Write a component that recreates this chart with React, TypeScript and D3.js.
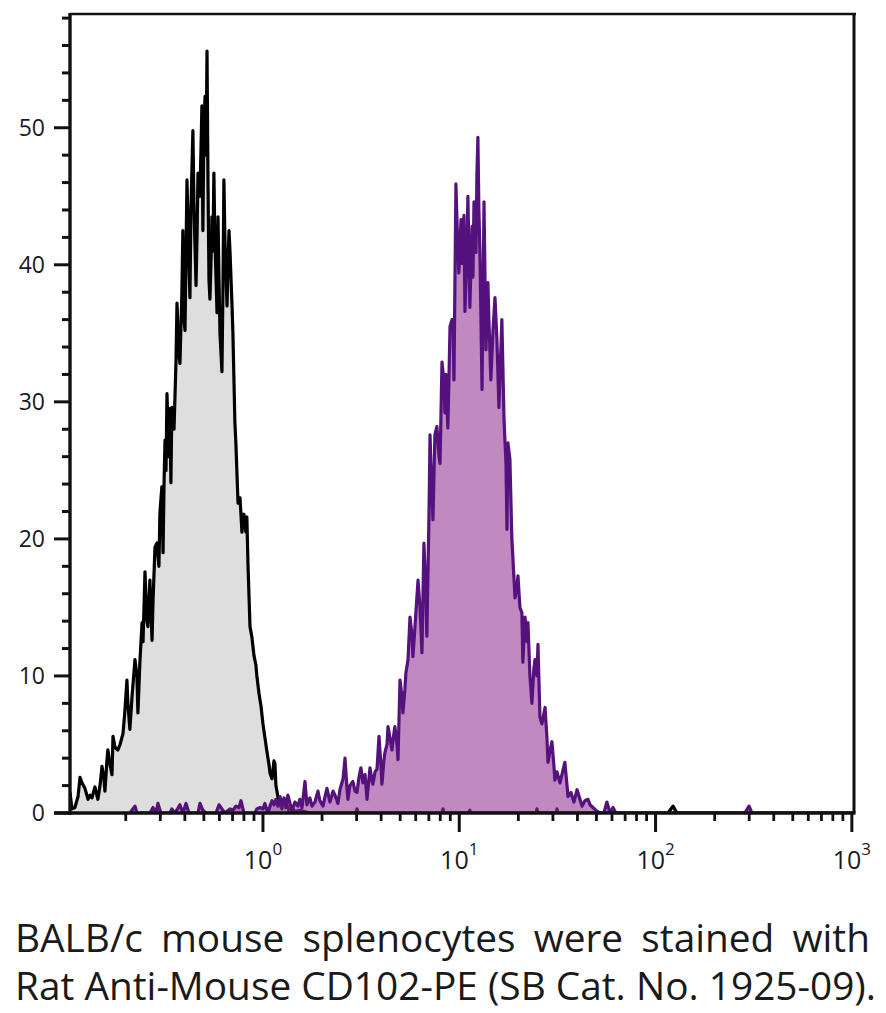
import React, { useEffect, useRef } from 'react';
import * as d3 from 'd3';

// log10(PE intensity) and event count per point
const controlLog = [
  -0.983, -0.973, -0.958, -0.942, -0.932, -0.922, -0.907, -0.891, -0.881, -0.871,
  -0.856, -0.841, -0.830, -0.820, -0.810, -0.805, -0.795, -0.790, -0.779, -0.769,
  -0.764, -0.754, -0.739, -0.728, -0.713, -0.703, -0.693, -0.688, -0.678, -0.667,
  -0.652, -0.642, -0.637, -0.627, -0.616, -0.611, -0.601, -0.591, -0.586, -0.576,
  -0.565, -0.560, -0.550, -0.540, -0.530, -0.525, -0.515, -0.509, -0.504, -0.499,
  -0.494, -0.489, -0.479, -0.474, -0.469, -0.464, -0.453, -0.443, -0.438, -0.428,
  -0.423, -0.413, -0.408, -0.402, -0.397, -0.392, -0.387, -0.377, -0.372, -0.367,
  -0.357, -0.351, -0.341, -0.336, -0.331, -0.321, -0.311, -0.306, -0.301, -0.295,
  -0.290, -0.285, -0.280, -0.275, -0.270, -0.265, -0.260, -0.255, -0.250, -0.245,
  -0.234, -0.229, -0.224, -0.219, -0.209, -0.204, -0.199, -0.194, -0.183, -0.178,
  -0.173, -0.168, -0.158, -0.153, -0.143, -0.138, -0.127, -0.117, -0.107, -0.097,
  -0.087, -0.082, -0.076, -0.066, -0.056, -0.046, -0.036, -0.031, -0.020, -0.010,
  0.000, 0.010, 0.020, 0.031, 0.036, 0.046, 0.056, 0.061, 0.066, 0.076,
  0.087, 0.097, 0.112, 0.122, 0.132, 0.148, 0.163, 0.188, 0.239, 0.474,
  0.479, 0.484, 0.912, 0.917, 0.922, 1.049, 1.054, 1.059, 1.391, 1.396,
  1.401, 1.493, 1.498, 1.503, 2.063, 2.089, 2.109, 3.016,
];
const controlCount = [
  1.5, 0.3, 0.4, 1.2, 2.6, 2.2, 1.8, 1.0, 1.3, 1.1,
  1.9, 1.0, 2.0, 3.4, 2.5, 1.6, 3.8, 4.6, 3.5, 2.8,
  5.6, 4.8, 4.6, 5.0, 5.8, 7.5, 9.7, 8.0, 6.1, 8.5,
  11.2, 10.0, 7.3, 11.0, 13.9, 12.5, 17.6, 14.0, 13.6, 17.0,
  12.6, 15.5, 19.4, 19.7, 18.0, 21.9, 23.8, 19.0, 24.0, 27.2,
  25.0, 30.6, 26.0, 29.5, 24.1, 29.6, 28.0, 33.0, 37.2, 33.5,
  32.8, 38.0, 42.5, 36.0, 35.2, 41.0, 46.2, 40.0, 37.6, 44.0,
  49.8, 44.0, 38.5, 42.0, 46.7, 45.0, 51.6, 42.5, 50.0, 52.3,
  48.0, 55.6, 46.0, 38.9, 37.5, 40.0, 43.5, 41.0, 46.7, 42.0,
  36.5, 43.5, 39.0, 35.0, 32.2, 38.0, 46.2, 42.0, 37.0, 40.0,
  42.5, 41.0, 37.2, 35.0, 28.5, 27.0, 22.6, 23.0, 20.5, 21.8,
  20.5, 21.6, 18.0, 13.6, 12.8, 11.5, 10.8, 10.0, 8.7, 7.8,
  6.5, 5.5, 4.5, 3.5, 2.9, 2.5, 3.8, 3.6, 2.0, 1.2,
  0.6, 0.3, 1.0, 0.6, 0.2, 0.4, 0.1, 0.2, 0, 0,
  0.3, 0, 0, 0.3, 0, 0, 0.2, 0, 0, 0.3,
  0, 0, 0.3, 0, 0, 0.5, 0, 0,
];

const stainedLog = [
  -0.678, -0.652, -0.642, -0.576, -0.560, -0.545, -0.535, -0.520, -0.474, -0.464,
  -0.448, -0.423, -0.408, -0.392, -0.377, -0.331, -0.321, -0.306, -0.290, -0.239,
  -0.224, -0.209, -0.194, -0.168, -0.153, -0.138, -0.122, -0.112, -0.097, -0.041,
  -0.031, -0.015, 0.000, 0.010, 0.025, 0.036, 0.046, 0.056, 0.066, 0.076,
  0.087, 0.097, 0.107, 0.117, 0.127, 0.138, 0.148, 0.163, 0.178, 0.188,
  0.199, 0.214, 0.224, 0.239, 0.250, 0.265, 0.280, 0.290, 0.306, 0.316,
  0.326, 0.341, 0.357, 0.367, 0.382, 0.392, 0.408, 0.418, 0.428, 0.433,
  0.443, 0.458, 0.469, 0.479, 0.489, 0.499, 0.509, 0.520, 0.530, 0.540,
  0.545, 0.555, 0.560, 0.571, 0.581, 0.591, 0.601, 0.606, 0.616, 0.621,
  0.632, 0.637, 0.647, 0.657, 0.667, 0.672, 0.683, 0.688, 0.698, 0.708,
  0.713, 0.723, 0.728, 0.739, 0.749, 0.759, 0.764, 0.774, 0.779, 0.790,
  0.800, 0.810, 0.820, 0.830, 0.835, 0.846, 0.851, 0.856, 0.866, 0.876,
  0.886, 0.897, 0.902, 0.912, 0.922, 0.927, 0.932, 0.942, 0.953, 0.963,
  0.968, 0.973, 0.983, 0.993, 0.998, 1.009, 1.014, 1.024, 1.029, 1.039,
  1.044, 1.054, 1.065, 1.070, 1.075, 1.085, 1.090, 1.095, 1.100, 1.105,
  1.116, 1.126, 1.136, 1.146, 1.151, 1.161, 1.172, 1.182, 1.192, 1.202,
  1.217, 1.228, 1.238, 1.243, 1.248, 1.258, 1.268, 1.284, 1.294, 1.299,
  1.309, 1.319, 1.324, 1.335, 1.345, 1.350, 1.360, 1.370, 1.380, 1.386,
  1.396, 1.401, 1.411, 1.421, 1.437, 1.447, 1.452, 1.462, 1.472, 1.482,
  1.487, 1.498, 1.513, 1.523, 1.538, 1.549, 1.554, 1.569, 1.584, 1.600,
  1.615, 1.625, 1.640, 1.656, 1.666, 1.681, 1.696, 1.717, 1.737, 1.752,
  1.768, 1.783, 1.798, 2.455, 2.476, 2.491, 3.016,
];
const stainedCount = [
  0, 0.5, 0, 0, 0.4, 0, 0.7, 0, 0, 0.3,
  0, 0.6, 0, 0.7, 0, 0, 0.7, 0.2, 0, 0,
  0.6, 0.3, 0, 0.3, 0.2, 0.5, 0.4, 0.9, 0, 0,
  0.3, 0.4, 0.3, 0.7, 0, 0.5, 0.9, 0.6, 1.0, 0.5,
  1.2, 0.6, 1.1, 0.4, 1.3, 0.7, 0.2, 0.8, 0.5, 1.0,
  0.4, 2.3, 0.6, 1.1, 0.5, 0.8, 1.6, 0.9, 0.5, 1.2,
  1.8, 0.8, 1.6, 1.3, 0.7, 1.7, 2.5, 4.0, 1.8, 1.0,
  2.0, 2.3, 1.6, 1.5, 2.6, 3.3, 2.2, 2.8, 1.0, 2.5,
  3.3, 2.4, 2.1, 3.0, 3.2, 5.6, 3.5, 2.1, 3.8, 4.4,
  5.0, 6.3, 5.5, 4.6, 5.8, 6.3, 5.0, 3.9, 9.7, 8.5,
  7.3, 9.0, 10.2, 11.2, 14.3, 13.0, 11.4, 13.5, 14.6, 17.0,
  15.0, 11.7, 19.7, 16.0, 12.9, 22.0, 27.6, 25.2, 21.4, 27.6,
  28.2, 26.0, 25.5, 32.9, 31.5, 29.2, 32.0, 28.1, 35.5, 36.0,
  35.9, 31.6, 45.9, 41.0, 39.4, 43.3, 40.1, 43.6, 36.6, 41.0,
  45.0, 36.9, 42.8, 39.1, 44.6, 40.9, 46.7, 49.3, 44.0, 41.1,
  30.9, 44.6, 33.8, 38.7, 36.0, 31.6, 35.3, 37.6, 34.5, 29.6,
  36.0, 28.7, 25.5, 20.7, 27.0, 25.8, 20.0, 15.7, 16.5, 17.3,
  15.0, 14.6, 11.0, 14.3, 12.5, 13.9, 10.0, 8.0, 10.5, 11.2,
  10.0, 12.3, 7.0, 6.5, 7.7, 5.4, 3.7, 4.5, 5.2, 3.5,
  2.4, 3.0, 2.2, 2.8, 3.7, 2.0, 1.2, 1.5, 0.8, 1.7,
  1.0, 0.5, 0.9, 1.0, 0.6, 0.4, 0.2, 0, 0, 0.8,
  0, 0.4, 0, 0, 0.5, 0, 0,
];

const yMajorTicks = [0, 10, 20, 30, 40, 50];
const yMinorTicks = [2, 4, 6, 8, 12, 14, 16, 18, 22, 24, 26, 28, 32, 34, 36, 38, 42, 44, 46, 48, 52, 54, 56, 58];
const xDecades = [0, 1, 2, 3];
const captionLines = [
  'BALB/c mouse splenocytes were stained with',
  'Rat Anti-Mouse CD102-PE (SB Cat. No. 1925-09).',
];

interface Pt {
  v: number;
  c: number;
}

const FONT = '"Open Sans", "Noto Sans", sans-serif';

const App: React.FC = () => {
  const svgRef = useRef<SVGSVGElement>(null);

  useEffect(() => {
    if (!svgRef.current) return;
    const svg = d3.select(svgRef.current);
    svg.selectAll('*').remove();

    const left = 70;
    const right = 855;
    const top = 14;
    const bottom = 813;

    const x = d3.scaleLog().domain([10 ** -0.983, 10 ** 3.016]).range([left, right]);
    const y = d3.scaleLinear().domain([0, 58.3]).range([bottom, top]);

    const control: Pt[] = controlLog.map((l, i) => ({ v: 10 ** l, c: controlCount[i] }));
    const stained: Pt[] = stainedLog.map((l, i) => ({ v: 10 ** l, c: stainedCount[i] }));

    svg.append('defs')
      .append('clipPath')
      .attr('id', 'plot-clip')
      .append('rect')
      .attr('x', left)
      .attr('y', top)
      .attr('width', right - left)
      .attr('height', bottom - top);

    const area = d3.area<Pt>().x(d => x(d.v)).y0(y(0)).y1(d => y(d.c));
    const line = d3.line<Pt>().x(d => x(d.v)).y(d => y(d.c));

    const plot = svg.append('g').attr('clip-path', 'url(#plot-clip)');

    // control (unstained) histogram
    plot.append('path').datum(control).attr('d', area).attr('fill', '#dedede');
    plot.append('path').datum(control)
      .attr('d', line)
      .attr('fill', 'none')
      .attr('stroke', '#000')
      .attr('stroke-width', 3.2)
      .attr('stroke-linejoin', 'round');

    // stained histogram
    plot.append('path').datum(stained)
      .attr('d', area)
      .attr('fill', '#963c96')
      .attr('fill-opacity', 0.6);
    plot.append('path').datum(stained)
      .attr('d', line)
      .attr('fill', 'none')
      .attr('stroke', '#55127f')
      .attr('stroke-width', 3.2)
      .attr('stroke-linejoin', 'round');

    // frame
    const frame = svg.append('g').attr('stroke', '#111').attr('fill', 'none');
    frame.append('line').attr('x1', left).attr('x2', right + 1).attr('y1', top).attr('y2', top).attr('stroke-width', 2.5);
    frame.append('line').attr('x1', right - 1).attr('x2', right - 1).attr('y1', top - 1).attr('y2', bottom).attr('stroke-width', 3);
    frame.append('line').attr('x1', left).attr('x2', left).attr('y1', top - 1).attr('y2', bottom + 2).attr('stroke-width', 3.4);
    frame.append('line').attr('x1', 54).attr('x2', right + 0.5).attr('y1', bottom).attr('y2', bottom).attr('stroke-width', 3.6);

    // y ticks
    frame.selectAll('.y-major')
      .data(yMajorTicks)
      .enter()
      .append('line')
      .attr('x1', 54).attr('x2', left)
      .attr('y1', d => y(d)).attr('y2', d => y(d))
      .attr('stroke-width', 3);
    frame.selectAll('.y-minor')
      .data(yMinorTicks)
      .enter()
      .append('line')
      .attr('x1', 62).attr('x2', left)
      .attr('y1', d => y(d)).attr('y2', d => y(d))
      .attr('stroke-width', 3);

    // x ticks
    const xMinor = x.ticks().filter(t => {
      const e = Math.log10(t);
      return Math.abs(e - Math.round(e)) > 1e-6;
    });
    frame.selectAll('.x-minor')
      .data(xMinor)
      .enter()
      .append('line')
      .attr('x1', d => x(d)).attr('x2', d => x(d))
      .attr('y1', bottom).attr('y2', bottom + 8)
      .attr('stroke-width', 2.8);
    frame.selectAll('.x-major')
      .data(xDecades)
      .enter()
      .append('line')
      .attr('x1', d => x(10 ** d)).attr('x2', d => x(10 ** d))
      .attr('y1', bottom).attr('y2', bottom + 19)
      .attr('stroke-width', 3);

    // tick labels
    svg.selectAll('.y-label')
      .data(yMajorTicks)
      .enter()
      .append('text')
      .attr('x', 45)
      .attr('y', d => y(d))
      .attr('dy', '0.36em')
      .attr('text-anchor', 'end')
      .style('font-family', FONT)
      .style('font-size', '23px')
      .style('fill', '#1a1a1a')
      .text(d => d);

    const xl = svg.selectAll('.x-label')
      .data(xDecades)
      .enter()
      .append('text')
      .attr('x', d => x(10 ** d))
      .attr('y', 869)
      .attr('text-anchor', 'middle')
      .style('font-family', FONT)
      .style('fill', '#1a1a1a');
    xl.append('tspan').style('font-size', '25px').text('10');
    xl.append('tspan').attr('dy', -14).style('font-size', '17px').text(d => d);

    // caption, justified to the chart width
    const caption = svg.append('g')
      .style('font-family', FONT)
      .style('fill', '#1a1a1a');
    const targets = [855, 861];
    const texts = captionLines.map((t, i) =>
      caption.append('text')
        .attr('x', 15)
        .attr('y', 952 + i * 48)
        .style('font-size', '36px')
        .text(t)
    );
    const widths = texts.map(t => (t.node() as SVGTextElement).getComputedTextLength());
    // last line runs at its natural width, so it sets the size
    const k = Math.min(targets[1] / widths[1], targets[0] / widths[0]);
    texts.forEach(t => t.style('font-size', `${36 * k}px`));
    texts.forEach((t, i) => {
      const w = (t.node() as SVGTextElement).getComputedTextLength();
      const gaps = captionLines[i].split(' ').length - 1;
      t.style('word-spacing', `${Math.max(0, (targets[i] - w) / gaps)}px`);
    });
  }, []);

  return (
    <svg
      ref={svgRef}
      width={886}
      height={1013}
      style={{ position: 'absolute', left: 0, top: 0, background: '#fff' }}
    />
  );
};

export default App;
